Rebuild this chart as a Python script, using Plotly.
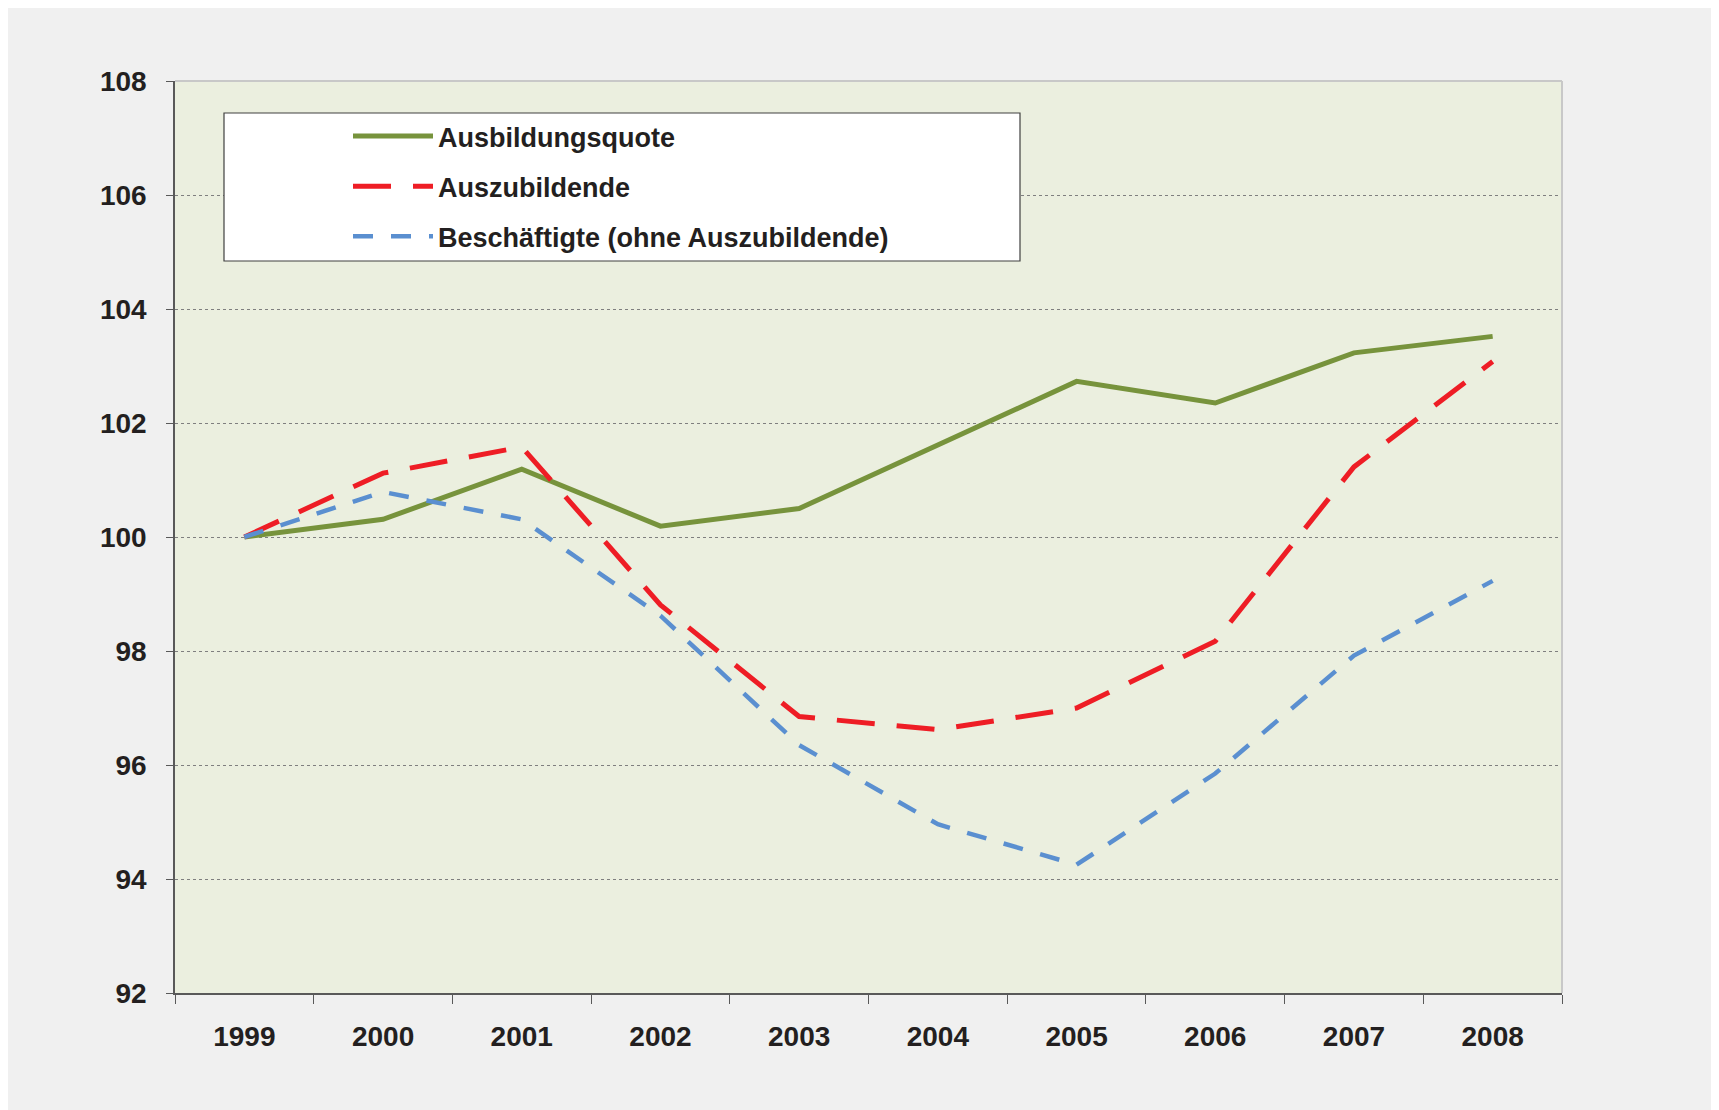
import plotly.graph_objects as go

years = ["1999", "2000", "2001", "2002", "2003", "2004", "2005", "2006", "2007", "2008"]
ausbildungsquote = [100.0, 100.31, 101.19, 100.19, 100.5, 101.62, 102.73, 102.35, 103.23, 103.52]
auszubildende = [100.0, 101.12, 101.58, 98.81, 96.85, 96.62, 97.0, 98.17, 101.23, 103.08]
beschaeftigte = [100.0, 100.79, 100.31, 98.62, 96.35, 94.96, 94.25, 95.85, 97.92, 99.23]
series_names = ["Ausbildungsquote", "Auszubildende", "Beschäftigte (ohne Auszubildende)"]
y_ticks = [92, 94, 96, 98, 100, 102, 104, 106, 108]

FONT = "Liberation Sans, Arial, sans-serif"

# page body has an 8px margin; figure coordinates are page coordinates minus 8
OFF = 8
W, H = 1719 - OFF, 1110 - OFF
L, R, T, B = 175 - OFF, 1562 - OFF, 81 - OFF, 993 - OFF
pw, ph = R - L, B - T

fig = go.Figure()
fig.add_trace(go.Scatter(x=years, y=ausbildungsquote, name=series_names[0], mode="lines",
                         line=dict(color="#77933C", width=5), legendgroup="a"))
fig.add_trace(go.Scatter(x=years, y=auszubildende, name=series_names[1], mode="lines",
                         line=dict(color="#EE1D25", width=5, dash="38px,22px"), legendgroup="b"))
fig.add_trace(go.Scatter(x=years, y=beschaeftigte, name=series_names[2], mode="lines",
                         line=dict(color="#5A8FD0", width=4.5, dash="20px,18px"), legendgroup="c"))

def px_x(v):
    return (v - OFF - L) / pw

def px_y(v):
    return (B - (v - OFF)) / ph

shapes = [
    # plot area
    dict(type="rect", xref="paper", yref="paper", x0=0, x1=1, y0=0, y1=1,
         fillcolor="#EBEFDF", line=dict(width=0), layer="below"),
    # top and right border
    dict(type="line", xref="paper", yref="paper", x0=0, x1=1, y0=1, y1=1,
         line=dict(color="#C8C8C8", width=2), layer="above"),
    dict(type="line", xref="paper", yref="paper", x0=1, x1=1, y0=0, y1=1,
         line=dict(color="#C8C8C8", width=2), layer="above"),
    # legend box
    dict(type="rect", xref="paper", yref="paper", x0=px_x(224), x1=px_x(1020), y0=px_y(261), y1=px_y(113),
         fillcolor="white", line=dict(color="#404040", width=1.2), layer="above"),
]

fig.update_layout(
    width=W, height=H,
    margin=dict(l=L, r=W - R, t=T, b=H - B, pad=0),
    paper_bgcolor="#F0F0F0",
    plot_bgcolor="rgba(0,0,0,0)",
    shapes=shapes,
    font=dict(family=FONT, size=28, color="#231F20"),
    showlegend=True,
    legend=dict(
        x=px_x(348), y=px_y(112), xanchor="left", yanchor="top",
        bgcolor="rgba(0,0,0,0)", borderwidth=0,
        font=dict(family=FONT, size=27, color="#231F20", weight="bold"),
        itemwidth=80, tracegroupgap=12, traceorder="grouped",
    ),
    xaxis=dict(
        type="category", categoryorder="array", categoryarray=years,
        range=[-0.5, 9.5], tickson="boundaries",
        ticks="outside", ticklen=9, tickwidth=1.2, tickcolor="#595959",
        showline=True, linecolor="#595959", linewidth=1.6,
        showgrid=False, zeroline=False,
        tickfont=dict(family=FONT, size=28, color="#231F20", weight="bold"),
        ticklabelstandoff=18,
    ),
    yaxis=dict(
        range=[92, 108], tickvals=y_ticks, ticktext=[str(v) for v in y_ticks],
        ticks="outside", ticklen=7, tickwidth=1.2, tickcolor="#595959",
        showline=True, linecolor="#595959", linewidth=1.6,
        showgrid=True, gridcolor="#7F7F7F", gridwidth=1, griddash="dot",
        zeroline=False,
        tickfont=dict(family=FONT, size=28, color="#231F20", weight="bold"),
        ticklabelstandoff=14,
    ),
)

fig.write_html("out.html")
